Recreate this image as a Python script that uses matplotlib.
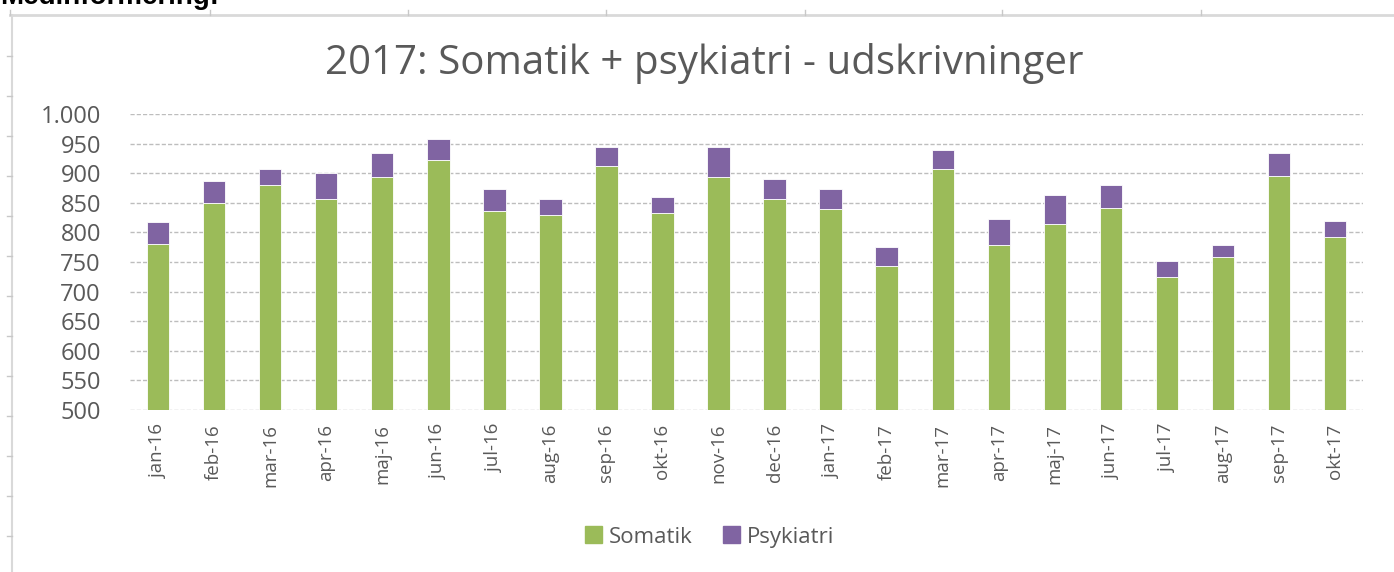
import matplotlib
matplotlib.use("Agg")
import matplotlib.pyplot as plt
import numpy as np
from matplotlib.lines import Line2D
from matplotlib.patches import Patch

# --- data ---
months = ["jan-16", "feb-16", "mar-16", "apr-16", "maj-16", "jun-16", "jul-16",
          "aug-16", "sep-16", "okt-16", "nov-16", "dec-16", "jan-17", "feb-17",
          "mar-17", "apr-17", "maj-17", "jun-17", "jul-17", "aug-17", "sep-17",
          "okt-17"]
somatik = [781, 849, 880, 856, 893, 923, 836, 829, 913, 832, 893, 856, 839, 744,
           907, 778, 815, 842, 724, 758, 896, 792]
psykiatri = [37, 38, 27, 44, 41, 34, 37, 27, 31, 27, 51, 34, 34, 31,
             33, 44, 48, 38, 27, 20, 38, 27]

green = "#9BBB59"
purple = "#8064A2"
txt = "#595959"

plt.rcParams['font.family'] = ['Open Sans', 'DejaVu Sans']

fig = plt.figure(figsize=(13.94, 5.72), dpi=100)
ax = fig.add_axes([0.0933, 0.2832, 0.8845, 0.5175])

x = np.arange(len(months))
ax.bar(x, somatik, width=0.4, color=green, edgecolor="white", linewidth=0.6, zorder=3)
ax.bar(x, psykiatri, width=0.4, bottom=somatik, color=purple,
       edgecolor="white", linewidth=0.6, zorder=3)

ax.set_ylim(500, 1000)
ax.set_xlim(-0.5, len(months) - 0.5)
ax.set_yticks(range(500, 1001, 50))
ax.set_yticklabels([f"{v:,}".replace(",", ".") for v in range(500, 1001, 50)],
                   fontsize=17, color=txt)
ax.set_xticks(x)
ax.set_xticklabels(months, rotation=90, fontsize=13.5, color=txt)
ax.tick_params(axis="y", length=0, pad=21)
ax.tick_params(axis="x", length=0, pad=10)
ax.grid(axis="y", color="#bdbdbd", linestyle=(0, (3, 1.5)), linewidth=1, zorder=0)
for s in ax.spines.values():
    s.set_visible(False)

# titel
fig.text(0.505, 1 - 74 / 572, "2017: Somatik + psykiatri - udskrivninger",
         ha="center", va="baseline", fontsize=29, color=txt)

# legend
handles = [Patch(color=green, label="Somatik"), Patch(color=purple, label="Psykiatri")]
fig.legend(handles=handles, loc="center", bbox_to_anchor=(0.509, 1 - 537 / 572),
           ncol=2, frameon=False, fontsize=16, handlelength=0.77, handleheight=0.77,
           columnspacing=1.35, handletextpad=0.3, labelcolor=txt)

# afskåret overskrift over diagrammet
fig.text(0.0, 1 - 4 / 572, "Medinformering:", ha="left", va="baseline",
         fontsize=20, fontweight="bold", family="Liberation Sans", color="black")

# ramme (lineal-agtig kant)
W, H = 1394, 572
frame = "#d9d9d9"
fig.add_artist(Line2D([10 / W, 1], [1 - 15 / H, 1 - 15 / H], color=frame, lw=2))
fig.add_artist(Line2D([12 / W, 12 / W], [0, 1 - 15 / H], color=frame, lw=1.5))
for tx in [10, 210, 408, 606, 805, 1002, 1201]:
    fig.add_artist(Line2D([tx / W, tx / W], [1 - 15 / H, 1 - 10 / H], color="#c8c8c8", lw=1))
for ty in range(56, 572, 40):
    fig.add_artist(Line2D([7 / W, 12 / W], [1 - ty / H, 1 - ty / H], color="#c8c8c8", lw=1))

fig.savefig("out.png", dpi=100)
